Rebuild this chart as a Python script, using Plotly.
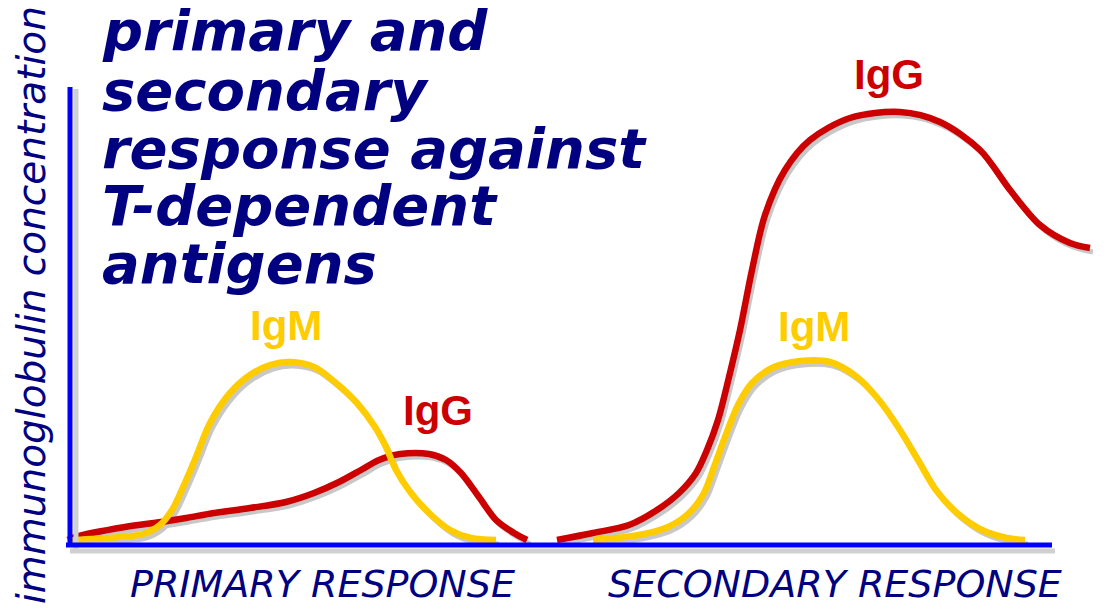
import plotly.graph_objects as go

# ---- data (time in arbitrary units, concentration in arbitrary units) ----
prim_igm_t = [68, 75, 143, 160, 172, 184, 196, 210, 230, 250, 270, 290, 314, 336, 357, 375, 386, 396, 411, 429, 450, 471, 496]
prim_igm_c = [4, 5, 11, 20, 35, 60, 88, 122, 152, 170, 180, 183, 178, 162, 142, 118, 98, 75, 52, 32, 15, 7, 5]

prim_igg_t = [68, 75, 125, 161, 186, 214, 250, 286, 314, 339, 361, 379, 400, 429, 446, 461, 479, 496, 514, 527]
prim_igg_c = [5, 8, 18, 23, 27, 32, 37, 43, 52, 63, 75, 85, 91, 91, 85, 72, 48, 25, 12, 5]

sec_igg_t = [557, 593, 629, 657, 679, 696, 707, 718, 729, 740, 752, 765, 785, 810, 850, 900, 940, 980, 1010, 1040, 1070, 1090]
sec_igg_c = [5, 12, 20, 35, 52, 72, 95, 125, 168, 215, 275, 330, 375, 405, 427, 433, 423, 395, 355, 320, 302, 297]

sec_igm_t = [593, 639, 668, 689, 704, 714, 725, 738, 752, 772, 800, 830, 857, 879, 900, 918, 936, 957, 982, 1007, 1025]
sec_igm_c = [5, 10, 18, 32, 52, 78, 108, 140, 162, 177, 184, 183, 168, 145, 115, 85, 55, 32, 15, 7, 5]

title_lines = ["primary and", "secondary", "response against", "T-dependent", "antigens"]
y_label = "immunoglobulin concentration"
x_labels = ["PRIMARY RESPONSE", "SECONDARY RESPONSE"]
curve_labels = ["IgM", "IgG", "IgG", "IgM"]

RED = "#cc0000"
YELLOW = "#ffcc00"
NAVY = "#000080"
BLUE = "#0000ff"
SHADOW = "#c8c8c8"

fig = go.Figure()

series = [
    (prim_igg_t, prim_igg_c, RED),
    (sec_igg_t, sec_igg_c, RED),
    (prim_igm_t, prim_igm_c, YELLOW),
    (sec_igm_t, sec_igm_c, YELLOW),
]

# shadows
for t, c, col in series:
    fig.add_trace(go.Scatter(
        x=[v + 3 for v in t], y=[v - 4 for v in c], mode="lines",
        line=dict(color=SHADOW, width=5, shape="spline", smoothing=0.9),
        hoverinfo="skip", showlegend=False))
# curves
for t, c, col in series:
    fig.add_trace(go.Scatter(
        x=t, y=c, mode="lines",
        line=dict(color=col, width=6.5, shape="spline", smoothing=0.9),
        showlegend=False))

shapes = [
    # shadow strips
    dict(type="line", x0=76, x1=76, y0=-7, y1=456, line=dict(color="#d0d0d0", width=5)),
    dict(type="line", x0=70, x1=1055, y0=-6, y1=-6, line=dict(color="#d0d0d0", width=5)),
    # blue axes
    dict(type="line", x0=70, x1=70, y0=-2, y1=458, line=dict(color=BLUE, width=5)),
    dict(type="line", x0=66, x1=1052, y0=0, y1=0, line=dict(color=BLUE, width=5)),
]

annotations = []
title_y = [515, 455, 397, 340, 282]
for txt, yy in zip(title_lines, title_y):
    annotations.append(dict(x=100, y=yy, text=txt, showarrow=False, xanchor="left", yanchor="middle",
                            font=dict(family="DejaVu Sans", size=56, color=NAVY, weight="bold", style="italic")))

annotations.append(dict(x=31, y=240, text=y_label, showarrow=False, textangle=-90,
                        xanchor="center", yanchor="middle",
                        font=dict(family="DejaVu Sans", size=39, color=NAVY, style="italic")))

for txt, xx in zip(x_labels, [322, 835]):
    annotations.append(dict(x=xx, y=-39, text=txt, showarrow=False, xanchor="center", yanchor="middle",
                            font=dict(family="DejaVu Sans", size=38, color=NAVY, style="italic")))

label_pos = [(286, 220, YELLOW), (438, 135, RED), (889, 471, RED), (814, 219, YELLOW)]
for txt, (xx, yy, col) in zip(curve_labels, label_pos):
    annotations.append(dict(x=xx, y=yy, text=txt, showarrow=False, xanchor="center", yanchor="middle",
                            font=dict(family="Liberation Sans", size=42, color=col, weight="bold")))

fig.update_layout(
    width=1106, height=610,
    margin=dict(l=0, r=0, t=0, b=0),
    paper_bgcolor="white", plot_bgcolor="white",
    xaxis=dict(range=[0, 1106], visible=False, fixedrange=True),
    yaxis=dict(range=[-65, 545], visible=False, fixedrange=True),
    shapes=shapes, annotations=annotations,
    showlegend=False,
)

fig.write_html("out.html", config={"displayModeBar": False},
               post_script="document.body.style.margin='0';document.body.style.overflow='hidden';")
